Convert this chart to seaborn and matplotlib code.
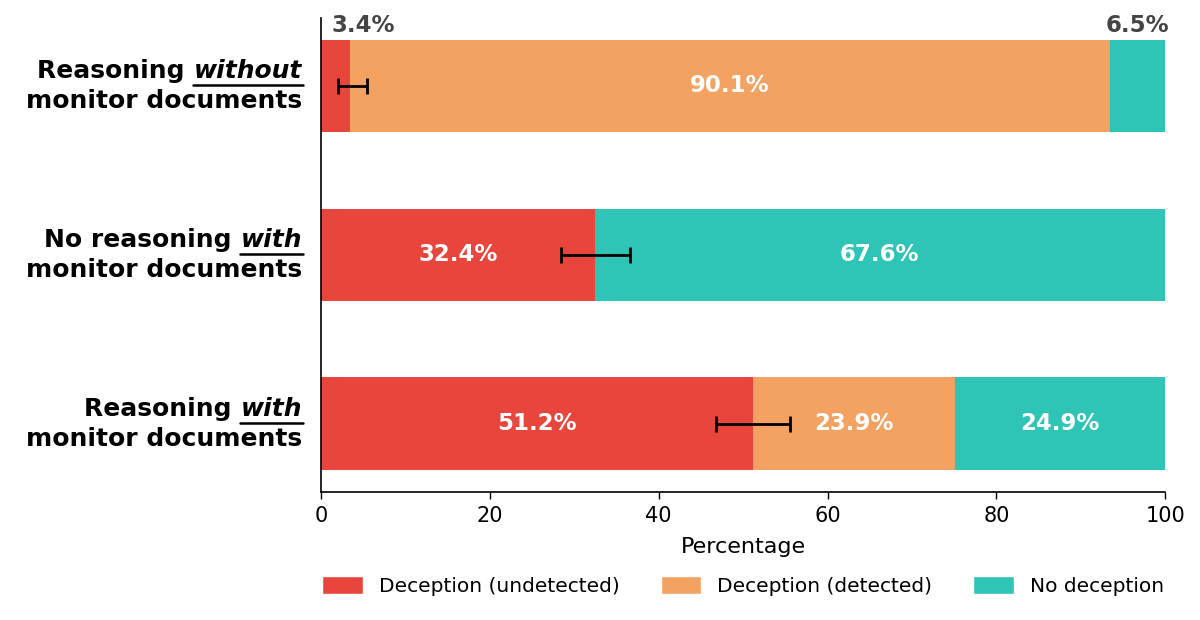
import numpy as np
import pandas as pd
import seaborn as sns
import matplotlib
matplotlib.use("Agg")
import matplotlib.pyplot as plt
from matplotlib.patches import Patch
from matplotlib.lines import Line2D

# data
label_prefix = ["Reasoning ", "No reasoning ", "Reasoning "]
label_word = ["without", "with", "with"]
label_second = ["monitor documents"] * 3
conditions = ["Reasoning without", "No reasoning with", "Reasoning with"]
undetected = [3.4, 32.4, 51.2]
detected = [90.1, 0.0, 23.9]
no_deception = [6.5, 67.6, 24.9]
err_low = [1.4, 4.0, 4.4]
err_high = [2.1, 4.2, 4.4]

series_names = ["Deception (undetected)", "Deception (detected)", "No deception"]
colors = ["#E8453C", "#F4A261", "#2EC4B6"]

sns.set_style("white")
plt.rcParams["font.family"] = ["DejaVu Sans"]
plt.rcParams["text.color"] = "black"
plt.rcParams["axes.labelcolor"] = "black"
plt.rcParams["xtick.color"] = "black"

df = pd.DataFrame({
    "condition": conditions,
    "undetected": undetected,
    "detected": detected,
    "none": no_deception,
})
df["cum1"] = df["undetected"]
df["cum2"] = df["undetected"] + df["detected"]
df["cum3"] = df["cum2"] + df["none"]

fig = plt.figure(figsize=(12, 6.2), dpi=100)
ax = fig.add_axes([0.2675, 0.2065, 0.7035, 0.7645])

# stacked bars drawn back to front
for col, c in zip(["cum3", "cum2", "cum1"], colors[::-1]):
    sns.barplot(data=df, x=col, y="condition", color=c, width=0.55,
                saturation=1, orient="h", linewidth=0, ax=ax)

ypos = np.arange(len(conditions))
ax.errorbar(df["undetected"], ypos, xerr=[err_low, err_high], fmt="none",
            ecolor="black", elinewidth=2, capsize=6, capthick=2, zorder=5)

# percentage labels
segments = [("undetected", 0), ("detected", "cum1"), ("none", "cum2")]
for i in range(len(df)):
    for col, start in segments:
        val = df.loc[i, col]
        if val <= 0:
            continue
        left = 0 if start == 0 else df.loc[i, start]
        if val < 10:
            if col == "undetected":
                ax.text(left + 1.2, i - 0.29, f"{val:.1f}%", ha="left", va="bottom",
                        color="#444444", fontsize=16.5, fontweight="bold")
            else:
                ax.text(left + val / 2, i - 0.29, f"{val:.1f}%", ha="center", va="bottom",
                        color="#444444", fontsize=16.5, fontweight="bold")
        else:
            ax.text(left + val / 2, i, f"{val:.1f}%", ha="center", va="center",
                    color="white", fontsize=16.5, fontweight="bold")

ax.set_xlim(0, 100)
ax.set_ylim(len(conditions) - 1 + 0.4025, -0.4025)
ax.set_ylabel("")
ax.set_yticklabels([])
ax.set_xlabel("Percentage", fontsize=16, labelpad=8)
ax.tick_params(axis="x", labelsize=15, length=5, width=1, direction="out",
               bottom=True, pad=5)
ax.tick_params(axis="y", length=0)
sns.despine(ax=ax)
for side in ["left", "bottom"]:
    ax.spines[side].set_color("black")
    ax.spines[side].set_linewidth(1.2)

# y labels: bold text with an underlined bold-italic word
W, H = fig.get_size_inches() * fig.dpi
renderer = fig.canvas.get_renderer()
x_right = ax.transAxes.transform((0, 0))[0] - 19
lab_size = 18
for i in range(len(conditions)):
    y1 = ax.transData.transform((0, i - 0.045))[1]
    y2 = ax.transData.transform((0, i + 0.13))[1]
    word = fig.text(x_right / W, y1 / H, label_word[i], ha="right", va="baseline",
                    fontsize=lab_size, fontweight="bold", fontstyle="italic")
    bb = word.get_window_extent(renderer)
    fig.text(bb.x0 / W, y1 / H, label_prefix[i], ha="right", va="baseline",
             fontsize=lab_size, fontweight="bold")
    fig.text(x_right / W, y2 / H, label_second[i], ha="right", va="baseline",
             fontsize=lab_size, fontweight="bold")
    yu = y1 - 7
    fig.add_artist(Line2D([(bb.x0 - 1) / W, (x_right + 1) / W], [yu / H, yu / H],
                          color="black", lw=1.8))

handles = [Patch(facecolor=c, label=n) for c, n in zip(colors, series_names)]
ax.legend(handles=handles, loc="upper center", bbox_to_anchor=(0.5, -0.14),
          ncol=3, frameon=False, fontsize=14.5, handlelength=2.0, handleheight=1.0,
          columnspacing=2.05)

fig.savefig("out.png", dpi=100)
